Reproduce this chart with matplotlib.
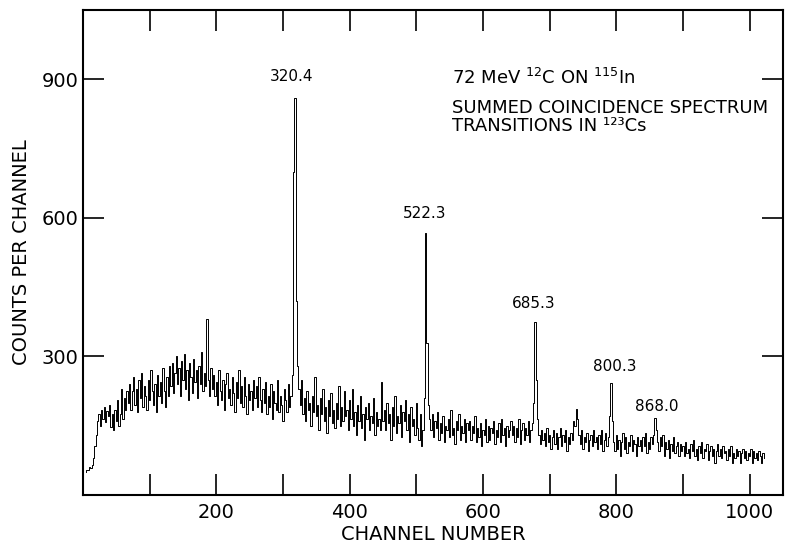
import numpy as np
import matplotlib
matplotlib.use("Agg")
from matplotlib import pyplot as plt

# spectrum in 2-channel steps starting at channel 4
first_channel = 4
step = 2
counts = [
    # 4 - 66
    50, 54, 55, 60, 58, 66, 80, 105, 130, 160, 175, 150, 185, 165, 190, 158,
    182, 170, 195, 148, 175, 140, 185, 160, 205, 150, 175, 230, 165, 210, 185, 225,
    # 68 - 130
    200, 240, 185, 225, 255, 195, 230, 180, 250, 210, 265, 190, 235, 215, 185, 250,
    205, 270, 225, 195, 240, 180, 260, 215, 245, 200, 275, 225, 190, 255, 215, 280,
    # 132 - 194
    235, 285, 220, 265, 300, 240, 275, 215, 290, 250, 305, 230, 270, 205, 285, 255,
    220, 295, 245, 270, 210, 280, 240, 310, 225, 265, 235, 380, 250, 215, 275, 230,
    # 196 - 258
    260, 215, 245, 195, 270, 225, 205, 250, 185, 240, 265, 210, 230, 195, 255, 220,
    180, 245, 210, 270, 200, 235, 190, 255, 215, 175, 240, 205, 225, 185, 250, 210,
    # 260 - 322
    235, 190, 255, 205, 180, 230, 200, 245, 175, 215, 190, 240, 165, 225, 200, 185,
    250, 180, 215, 195, 160, 230, 205, 180, 240, 190, 215, 260, 700, 860, 420, 280,
    # 324 - 386
    230, 195, 250, 175, 210, 160, 225, 185, 200, 150, 215, 180, 255, 170, 195, 140,
    210, 175, 230, 160, 190, 135, 205, 170, 220, 155, 185, 145, 200, 165, 235, 150,
    # 388 - 450
    190, 160, 225, 170, 185, 140, 205, 165, 230, 150, 180, 130, 195, 160, 215, 145,
    175, 120, 190, 165, 200, 140, 170, 155, 210, 130, 180, 150, 165, 140, 245, 160,
    # 452 - 514
    185, 140, 200, 155, 175, 120, 190, 150, 215, 135, 170, 155, 195, 125, 180, 160,
    205, 140, 175, 115, 190, 150, 165, 130, 200, 145, 120, 175, 105, 140, 210, 568,
    # 516 - 578
    330, 195, 165, 140, 175, 125, 160, 145, 180, 120, 155, 135, 170, 115, 150, 140,
    165, 125, 185, 130, 145, 110, 160, 140, 175, 120, 150, 135, 165, 115, 155, 140,
    # 580 - 642
    160, 120, 150, 135, 170, 115, 145, 125, 155, 105, 140, 130, 165, 115, 150, 120,
    145, 135, 160, 110, 140, 125, 155, 115, 165, 130, 145, 105, 150, 125, 140, 160,
    # 644 - 706
    130, 150, 115, 145, 125, 165, 110, 140, 155, 120, 145, 130, 160, 115, 140, 155,
    200, 374, 250, 165, 130, 110, 140, 120, 135, 105, 145, 115, 130, 100, 125, 140,
    # 708 - 770
    110, 135, 100, 125, 145, 105, 130, 115, 140, 95, 125, 110, 135, 120, 160, 150,
    187, 165, 130, 110, 140, 100, 125, 115, 135, 95, 120, 130, 105, 140, 115, 125,
    # 772 - 834
    100, 130, 110, 140, 95, 120, 135, 105, 125, 170, 242, 160, 115, 95, 130, 100,
    120, 85, 115, 135, 100, 125, 90, 115, 105, 130, 95, 120, 110, 85, 125, 105,
    # 836 - 898
    120, 95, 125, 105, 135, 90, 115, 100, 125, 110, 130, 166, 140, 115, 95, 125,
    105, 130, 85, 115, 100, 120, 80, 110, 95, 125, 90, 105, 115, 85, 110, 95,
    # 900 - 962
    105, 85, 115, 90, 100, 80, 110, 95, 120, 85, 100, 75, 105, 90, 115, 80,
    100, 95, 110, 75, 95, 105, 85, 100, 70, 95, 110, 85, 100, 80, 105, 90,
    # 964 - 1022
    95, 75, 100, 85, 105, 70, 90, 80, 100, 85, 95, 70, 90, 100, 80, 95,
    75, 90, 85, 100, 70, 95, 80, 90, 75, 95, 85, 70, 90, 80,
]

# peak labels (gamma energies in keV) and where they sit
peak_labels = ["320.4", "522.3", "685.3", "800.3", "868.0"]
label_x = [313, 513, 676, 798, 861]
label_y = [906, 609, 414, 278, 192]

title_1 = r"72 MeV $^{12}$C ON $^{115}$In"
title_2 = "SUMMED COINCIDENCE SPECTRUM\nTRANSITIONS IN \u00b9\u00b2\u00b3Cs"

x_ticks = list(range(100, 1001, 100))
y_ticks = [300, 600, 900]

channels = first_channel + step * np.arange(len(counts))

fig = plt.figure(figsize=(7.85, 5.43), dpi=100)
ax = fig.add_axes([0.1057, 0.0884, 0.8918, 0.8932])

ax.step(channels, counts, where="mid", color="black", lw=0.7)

ax.set_xlim(0, 1050)
ax.set_ylim(0, 1050)
ax.set_xticks(x_ticks)
ax.set_xticklabels([str(v) if v % 200 == 0 else "" for v in x_ticks])
ax.set_yticks(y_ticks)
ax.tick_params(direction="in", length=15, width=1.2, top=True, right=True,
               labelsize=14)
ax.tick_params(axis="x", pad=6)
ax.tick_params(axis="y", pad=3)
for s in ax.spines.values():
    s.set_linewidth(1.5)

ax.set_xlabel("CHANNEL NUMBER", fontsize=14, labelpad=2)
ax.set_ylabel("COUNTS PER CHANNEL", fontsize=14, labelpad=8)

for t, x, y in zip(peak_labels, label_x, label_y):
    ax.text(x, y, t, ha="center", va="center", fontsize=11)

ax.text(553, 889, title_1, ha="left", va="baseline", fontsize=13)
ax.text(553, 788, title_2, ha="left", va="baseline", fontsize=13,
        linespacing=0.97)

plt.savefig("out.png", dpi=100)
